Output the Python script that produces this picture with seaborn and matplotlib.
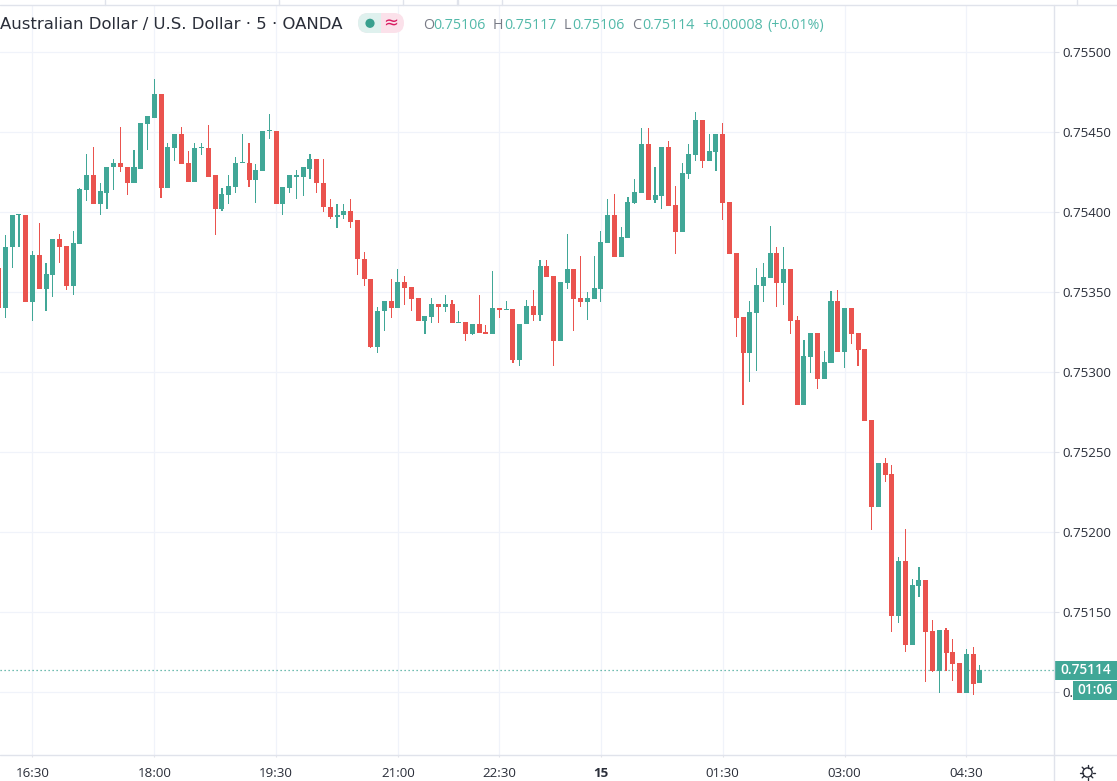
import numpy as np
import pandas as pd
import seaborn as sns
import matplotlib
matplotlib.use("Agg")
import matplotlib.pyplot as plt
from matplotlib.patches import Rectangle, FancyBboxPatch, Circle

# Prices in 1e-5 units (points)
opens = [75365,75340,75378,75398,75398,75344,75373,75352,75361,75383,75379,75354,75380,75414,75423,75405,75412,75428,75431,75428,
         75418,75427,75455,75459,75474,75415,75440,75449,75431,75419,75440,75440,75423,75402,75411,75416,75431,75431,75420,75426,
         75450.5,75451,75405,75415,75422,75422,75427,75433,75418,75403,75397,75398,75401,75395,75371,75358,75316,75338,75344.6,75340,
         75356.5,75353,75346.5,75332,75334.5,75342.7,75341,75342.7,75331,75331.5,75324,75330,75325,75324,75340,75339,75339.6,75307.7,75330,75341.5,
         75336,75366.5,75360,75319.6,75356,75364.6,75346.5,75344,75346,75352,75381,75398.3,75372,75384,75406,75412,75442.7,75407.7,75410,75440.8,
         75404.6,75387.7,75424,75436,75457.7,75432,75437.7,75449,75406.4,75374.6,75334.6,75312,75337,75354,75359,75374.6,75355.8,75364.6,75332.7,75279.6,
         75309.6,75324.6,75295.8,75306,75344.6,75312.7,75340,75324.6,75314.6,75270,75215.8,75243.3,75236.5,75147.7,75182,75129.6,75166.6,75170,75138.3,75113.3,
         75139,75125.2,75118.3,75099.6,75124,75106]
highs = [75372,75386,75398,75398.5,75398,75376,75393,75368,75383,75386.5,75379,75388,75415,75436.5,75441,75418,75428,75433,75453,75428,
         75439,75456,75460,75483,75474,75443,75449,75453,75438,75443,75443,75454.6,75423.5,75415,75423,75434.6,75449,75443,75430,75451,
         75461.5,75451,75416,75423.5,75426.5,75428,75436.5,75433,75433,75408,75405,75405,75408.5,75395,75375,75358,75341,75344.6,75358.3,75364.6,
         75360,75353,75346.5,75335,75346.5,75342.7,75348.3,75345,75338.3,75331.5,75330,75348.3,75329.6,75363.3,75340,75344.6,75339.6,75330,75345,75351.5,
         75370,75370,75360,75356.5,75386.4,75364.6,75372.7,75350,75372.7,75388.3,75408.3,75411.4,75390.8,75409.6,75420.8,75452.7,75452.7,75428.3,75440.8,75444.6,
         75416.4,75430.8,75442.7,75462.7,75457.7,75449,75449,75455.8,75406.4,75374.6,75334.6,75344.6,75365,75368.3,75391.5,75378.3,75378.3,75364.6,75335,75320,
         75324.6,75324.6,75313.3,75350.8,75351.5,75340,75340,75324.6,75314.6,75270,75243.3,75246.5,75242,75184.6,75202,75170.8,75178.3,75170,75145.2,75139,
         75140.2,75133.3,75118.3,75127.1,75128,75117]
lows = [75334,75334,75365,75378,75344,75332,75352,75338,75347,75368,75351.5,75348,75380,75407,75405,75398,75402,75414,75425,75411,
        75418,75427,75439,75459,75409,75415,75432,75430,75419,75419,75436,75422,75386,75401,75405,75412,75431,75416,75406,75426,
        75446,75405,75398,75412,75408,75410,75421,75412,75400,75396,75390,75396,75390,75361,75354,75315,75312,75326,75334,75340,
        75342,75338,75332,75324,75331,75331,75337.7,75331,75331,75319.6,75323,75324.6,75324,75324,75334,75339,75306,75304,75330,75332,
        75332,75359.6,75304,75319.6,75352,75326,75341,75332.7,75346,75344,75381,75372,75372,75384,75405,75412,75407.7,75405.8,75402,75404,
        75374,75387.7,75420.8,75432,75427.7,75432,75425.8,75395,75374,75322,75279.6,75294,75300.8,75344,75359,75340.8,75342,75324,75279.6,75279.6,
        75299.6,75289.6,75295.8,75306,75312.7,75302.7,75317.7,75304,75269.6,75201.5,75215.8,75231.5,75137.7,75143.3,75125.2,75129.6,75159.6,75106.5,75112.7,75099.6,
        75113.3,75107,75099.6,75099.6,75098.4,75106]
closes = [75340,75378,75398,75398.5,75344,75373,75352,75361.5,75383,75378.4,75354,75381,75414.6,75423,75405,75413,75428,75431,75428,75418,
          75428,75456,75460,75474,75415,75441,75449,75430,75419,75440,75440.6,75422,75402,75411.5,75416.5,75431,75431.6,75420,75426.5,75451,
          75451,75405,75416,75423,75423,75428,75433,75418,75403,75397,75398,75401,75394,75371,75358,75316,75338.3,75344.6,75340,75356.5,
          75352.7,75346,75332,75335,75342.7,75341,75342.7,75331,75331.6,75324,75330,75324.6,75324,75340.2,75339,75339.6,75307.7,75330,75341.5,75336,
          75366.5,75359.6,75319.6,75356.5,75364.6,75346,75344,75346.5,75352.7,75381.5,75398.3,75372,75384.6,75406.5,75412.7,75442.7,75407.7,75410.8,75440.8,75404,
          75387.7,75424.6,75436.4,75457.7,75432,75438.3,75449,75405.8,75374,75334,75312,75337.7,75354.6,75359.6,75374.6,75355.8,75364.6,75332,75279.6,75310,
          75324.6,75295.8,75306.5,75344.6,75312.7,75340,75324,75314,75269.6,75215.8,75243.3,75235.8,75147.7,75182,75129.6,75167,75170.2,75137.7,75113.3,75139,
          75124.6,75117.7,75099.6,75124,75105,75114]

time_ticks = [5, 23, 41, 59, 74, 89, 107, 125, 143]
time_labels = ["16:30", "18:00", "19:30", "21:00", "22:30", "15", "01:30", "03:00", "04:30"]
price_ticks = [0.7510, 0.7515, 0.7520, 0.7525, 0.7530, 0.7535, 0.7540, 0.7545, 0.7550]

W, H = 1117, 781
UP, DOWN = "#41a797", "#ea534e"
GRID, LINE, INK = "#f0f3fa", "#e0e3eb", "#2a2e39"

sns.set_theme(style="white")
plt.rcParams["font.family"] = ["Open Sans", "DejaVu Sans"]

df = pd.DataFrame({"o": opens, "h": highs, "l": lows, "c": closes}) / 1e5
df["i"] = np.arange(len(df))
df["top"] = df[["o", "c"]].max(axis=1)
df["bot"] = df[["o", "c"]].min(axis=1)
df["body"] = (df["top"] - df["bot"]).clip(lower=0.000007)
df["wick"] = df["h"] - df["l"]
df["up"] = df["c"] >= df["o"]

fig = plt.figure(figsize=(W / 100, H / 100), dpi=100, facecolor="white")
ax = fig.add_axes([0, (H - 755.3) / H, 1053.5 / W, (755.3 - 4.7) / H])

for is_up, col in [(True, UP), (False, DOWN)]:
    sub = df[df["up"] == is_up]
    sns.barplot(x=sub["i"].to_numpy(), y=sub["wick"].to_numpy(), bottom=sub["l"].to_numpy(), native_scale=True,
                errorbar=None, color=col, saturation=1, width=0.17, linewidth=0, ax=ax, zorder=3)
    sns.barplot(x=sub["i"].to_numpy(), y=sub["body"].to_numpy(), bottom=sub["bot"].to_numpy(), native_scale=True,
                errorbar=None, color=col, saturation=1, width=0.74, linewidth=0, ax=ax, zorder=4)

ax.set_xlim(0.198, 155.88)
ax.set_ylim(0.750606, 0.7552975)
ax.set_xlabel("")
ax.set_ylabel("")
ax.set_xticks(time_ticks, time_labels)
ax.set_yticks(price_ticks, [f"{p:.5f}" for p in price_ticks])
ax.yaxis.tick_right()
ax.grid(True, color=GRID, lw=0.9, zorder=0)
ax.set_axisbelow(True)
for s in ax.spines.values():
    s.set_visible(False)
ax.tick_params(axis="y", which="major", right=True, length=3.6, width=0.8, color=LINE, pad=3, labelsize=9.6, labelcolor=INK)
ax.tick_params(axis="x", which="major", bottom=True, length=1.5, width=0.8, color=LINE, pad=7, labelsize=9.6, labelcolor=INK)
for lab in ax.get_xticklabels():
    if lab.get_text() == "15":
        lab.set_fontweight("bold")

last = df["c"].iloc[-1]
ax.axhline(last, color=UP, lw=0.9, ls=(0, (1, 2.2)), zorder=2)

# chrome overlay in pixel coordinates
ov = fig.add_axes([0, 0, 1, 1], zorder=5)
ov.set_xlim(0, W)
ov.set_ylim(H, 0)
ov.axis("off")
ov.patch.set_alpha(0)
ov.plot([0, W], [4.7, 4.7], color=LINE, lw=1)
ov.plot([0, W], [755.3, 755.3], color=LINE, lw=1)
ov.plot([1053.5, 1053.5], [4.7, H], color=LINE, lw=1)
for xs in [105, 279, 403, 456.5, 458, 501.7, 1076.7]:
    ov.plot([xs, xs], [0, 4.7], color=LINE, lw=1)

ov.add_patch(Rectangle((1053.5, 660.7), W - 1053.5, 19.3, color=UP, lw=0))
ov.text(1086, 670.5, f"{last:.5f}", color="white", fontsize=9.8, fontweight="semibold", ha="center", va="center")
ov.add_patch(Rectangle((1073, 680.7), W - 1073, 19.3, color=UP, lw=0))
ov.text(1094.5, 690.5, "01:06", color="white", fontsize=9.8, fontweight="semibold", ha="center", va="center")

# header
ov.text(0, 25, "Australian Dollar / U.S. Dollar · 5 · OANDA", color=INK, fontsize=11.85, ha="left", va="center",
        family=["DejaVu Sans"])
pill = FancyBboxPatch((358 + 10, 13 + 10), 46 - 20, 0, boxstyle="round,pad=10", color="#fbe1ea", lw=0)
ov.add_patch(pill)
pill2 = FancyBboxPatch((358 + 10, 13 + 10), 46 - 20, 0, boxstyle="round,pad=10", color="#dff1ee", lw=0)
ov.add_patch(pill2)
pill2.set_clip_path(Rectangle((358, 13), 23, 20, transform=ov.transData))
ov.add_patch(Circle((370, 23.3), 4.6, color="#38a08e", lw=0))
ov.text(391, 23, "≈", color="#d81b60", fontsize=13, ha="center", va="center", family=["DejaVu Sans"])

GREY, TXT = "#787b86", "#53b9a9"
parts = [(422.7, "O", GREY), (433.3, "0.75106", TXT), (493, "H", GREY), (504, "0.75117", TXT),
         (564, "L", GREY), (572.7, "0.75106", TXT), (632, "C", GREY), (642, "0.75114", TXT),
         (702, "+0.00008", TXT), (767, "(+0.01%)", TXT)]
for xp, s, col in parts:
    ov.text(xp, 25.5, s, color=col, fontsize=10.3, ha="left", va="center")

# settings icon
ov.add_patch(Circle((1087.5, 772.5), 4.6, fill=False, ec=INK, lw=1))
for a in np.arange(0, 2 * np.pi, np.pi / 4):
    ov.plot([1087.5 + 5 * np.cos(a), 1087.5 + 7.5 * np.cos(a)], [772.5 + 5 * np.sin(a), 772.5 + 7.5 * np.sin(a)], color=INK, lw=1)

fig.savefig("out.png", dpi=100, facecolor="white")
